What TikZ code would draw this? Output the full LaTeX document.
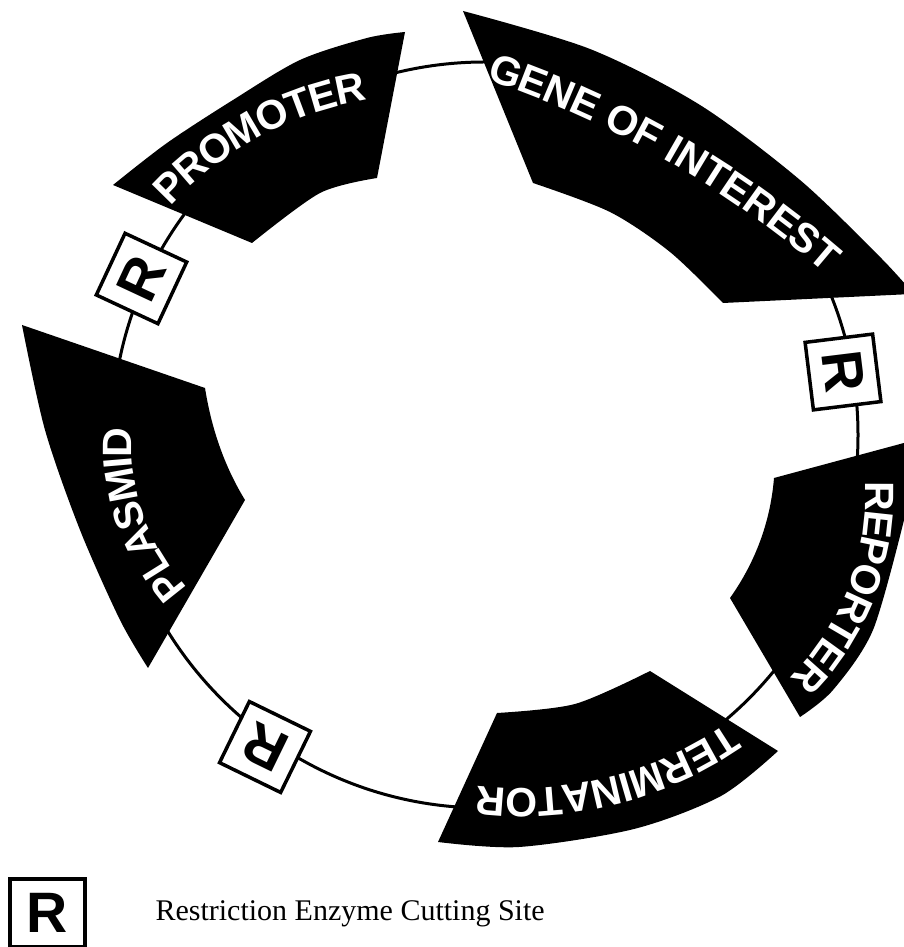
\documentclass[tikz,border=0pt]{standalone}
\usepackage{fontspec}
\setmainfont{Liberation Serif}
\setsansfont{Liberation Sans}
\usepackage{tikz}
\usetikzlibrary{decorations.text}
\newcommand{\seglabel}{\fontsize{41}{41}\selectfont\sffamily\bfseries\color{white}}

\begin{document}
\begin{tikzpicture}[x=1pt, y=1pt]
  \tikzstyle{segment}=[fill=black]
  \tikzstyle{ring}=[line width=3pt]
  \tikzstyle{site}=[draw, fill=white, line width=3.5pt, minimum size=68pt, inner sep=0pt, font=\fontsize{57}{57}\selectfont\sffamily\bfseries]
  \useasboundingbox (0,0) rectangle (904,947);
  \clip (0,0) rectangle (904,947);
  \coordinate (centre) at (485,512);
  \draw[ring] (centre) circle[radius=373];
  % segments of the plasmid
  \fill[segment] plot[smooth] coordinates {(113,762) (167,804) (233,847) (300,887) (367,909) (405,915)}
    -- plot[smooth] coordinates {(377,769) (320,754) (252,704)} -- cycle;
  \fill[segment] plot[smooth] coordinates {(463,936) (590,898) (700,842) (800,767) (880,690) (912,655)}
    -- (912,653) -- plot[smooth] coordinates {(723,644) (670,695) (610,735) (533,764)} -- cycle;
  \fill[segment] (774,469) -- (915,507) -- (912,440)
    -- plot[smooth] coordinates {(904,427) (873,317) (833,257) (800,230)}
    -- (730,349) .. controls (752,380) and (770,420) .. (774,469) -- cycle;
  \fill[segment] plot[smooth] coordinates {(497,234) (575,243) (650,276)}
    -- plot[smooth] coordinates {(778,196) (721,151) (634,118) (519,100) (438,105)} -- cycle;
  \fill[segment] (22,622) -- (205,559) .. controls (212,515) and (226,478) .. (245,447)
    -- plot[smooth] coordinates {(148,279) (120,327) (80,417) (45,517) (22,622)} -- cycle;
  % labels along the segments
  \path[decorate, decoration={text along path, text align=center, raise=-14.7pt, text={|\seglabel|PROMOTER}}]
    (421,514) ++(148:352) arc[start angle=148, end angle=89, radius=352];
  \path[decorate, decoration={text along path, text align=center, raise=-14.7pt, text={|\seglabel|GENE OF INTEREST}}]
    (162,-93.5) ++(82:1029) arc[start angle=82, end angle=38.5, radius=1029];
  \path[decorate, decoration={text along path, text align=center, raise=-14.7pt, text={|\seglabel|REPORTER}}]
    (607,452) ++(30:273) arc[start angle=30, end angle=-72, radius=273];
  \path[decorate, decoration={text along path, text align=center, raise=-14.7pt, text={|\seglabel|TERMINATOR}}]
    (520,523) ++(-46:379) arc[start angle=-46, end angle=-106, radius=379];
  \path[decorate, decoration={text along path, text align=center, raise=-14.7pt, text={|\seglabel|PLASMID}}]
    (347,503) ++(244:230) arc[start angle=244, end angle=154, radius=230];
  % cutting sites
  \node[site, rotate=65] (site1) at (141.5,668.5) {R};
  \node[site, rotate=-83] (site2) at (843,575) {R};
  \node[site, rotate=154] (site3) at (265,200) {R};
  % key
  \node[site, minimum width=75pt, minimum height=68pt] (key) at (47.5,34) {R};
  \node[anchor=base west, font=\fontsize{30}{30}\selectfont] (keytext) at (152,27) {Restriction Enzyme Cutting Site};
\end{tikzpicture}
\end{document}
